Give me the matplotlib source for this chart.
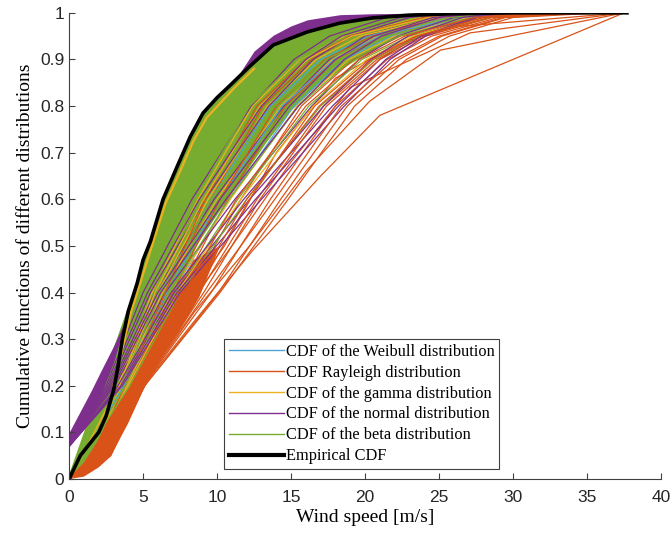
import numpy as np
import matplotlib
matplotlib.use("Agg")
import matplotlib.pyplot as plt
from matplotlib.lines import Line2D

# colours (matlab default order)
c_weib = "#4DA6D3"
c_ray = "#D95319"
c_gam = "#EDB120"
c_norm = "#7E2F8E"
c_beta = "#77AC30"

# empirical CDF
emp_x = [0, 0.3, 0.75, 1.5, 2.0, 2.5, 3.0, 3.3, 3.6, 4.0, 4.6, 5.0, 5.5, 6.35, 7.3,
         8.2, 9.05, 10.0, 10.9, 12.2, 13.8, 16.1, 18.3, 20.5, 23, 26, 30, 37.7]
emp_y = [0, 0.02, 0.05, 0.08, 0.1, 0.135, 0.19, 0.24, 0.3, 0.36, 0.42, 0.47, 0.51, 0.6, 0.67,
         0.735, 0.785, 0.818, 0.845, 0.885, 0.931, 0.959, 0.978, 0.989, 0.995, 0.998, 1, 1]

# dense band of beta curves (outer edges)
beta_top_x = [0, 1, 2, 3, 4.0, 4.6, 5.0, 5.5, 6.35, 7.3, 8.2, 9.05, 10.0, 10.9, 12.2, 13.8,
              16.1, 18.3, 20.5, 23, 26, 30]
beta_top_y = [0.01, 0.1, 0.19, 0.28, 0.37, 0.42, 0.47, 0.51, 0.6, 0.67, 0.735, 0.785, 0.818,
              0.845, 0.885, 0.931, 0.959, 0.978, 0.989, 0.995, 0.998, 1]
beta_low_x = [0, 2, 3.3, 4.5, 5.5, 6.5, 7.5, 8.6, 10.3, 11.8, 13.3, 15, 17, 19.5, 22, 24.5,
              27.5, 30]
beta_low_y = [0, 0.07, 0.16, 0.23, 0.29, 0.35, 0.42, 0.5, 0.58, 0.65, 0.72, 0.79, 0.85, 0.9,
              0.945, 0.975, 0.993, 1.0]

# normal curves band near the top and near x=0
norm_top_x = [11.6, 12.5, 13.8, 15, 16.1, 18.3, 20.5, 23, 26]
norm_top_y = [0.874, 0.918, 0.952, 0.972, 0.985, 0.996, 0.998, 0.999, 1.0]
norm_topb_y = [0.86, 0.88, 0.91, 0.93, 0.945, 0.965, 0.98, 0.99, 0.995]
norm_left_x = [0, 0.75, 1.5, 2.2, 3.0, 3.65]
norm_left_hi = [0.10, 0.145, 0.19, 0.235, 0.285, 0.33]
norm_left_lo = [0.07, 0.105, 0.14, 0.185, 0.25, 0.32]

# rayleigh band (lower side)
ray_up_x = [0, 1, 2, 3.2, 4.3, 5.3, 6.35, 7.3, 8.4, 10.2]
ray_up_y = [0, 0.035, 0.085, 0.16, 0.23, 0.29, 0.35, 0.41, 0.47, 0.5]
ray_lo_x = [0, 1, 2, 2.77, 4, 5, 6.15, 7.5, 8.8, 10.2]
ray_lo_y = [0, 0.005, 0.025, 0.047, 0.12, 0.19, 0.255, 0.32, 0.39, 0.5]

# single curves: x where each curve reaches the levels below
levels = [0, 0.2, 0.4, 0.6, 0.8, 0.9, 0.95, 0.99, 1.0]
norm_levels = [0.07, 0.2, 0.4, 0.6, 0.8, 0.9, 0.95, 0.99, 1.0]
ray_levels = [0, 0.05, 0.2, 0.4, 0.6, 0.8, 0.9, 0.95, 0.99, 1.0]

ray_curves = [
    [0, 1.6, 3.9, 6.6, 9.6, 13.1, 16.4, 19.2, 24.5, 29],
    [0, 2.0, 4.3, 7.4, 10.7, 14.6, 18.0, 21.1, 26.0, 30],
    [0, 2.3, 4.6, 8.1, 11.6, 15.7, 19.2, 22.4, 27.5, 31],
    [0, 1.8, 4.1, 7.0, 10.2, 14.0, 17.3, 20.5, 25.2, 29],
    [0, 2.5, 4.8, 8.6, 12.2, 16.6, 20.3, 23.4, 28.0, 32],
    [0, 1.5, 3.8, 6.5, 9.2, 12.7, 16.0, 19.0, 24.0, 28],
    [0, 2.6, 4.9, 9.1, 12.9, 17.4, 21.0, 24.1, 28.6, 33],
    [0, 2.7, 5.0, 9.6, 13.6, 18.0, 21.5, 24.5, 29, 34],
    [0, 2.8, 5.1, 10.1, 14.3, 18.8, 22.3, 25.2, 29.5, 35],
    [0, 2.4, 4.7, 8.8, 12.7, 17.2, 20.8, 23.8, 28.4, 33],
    [0, 2.8, 5.1, 10.2, 14.8, 19.3, 22.8, 25.7, 30, 36],
    [0, 2.1, 4.4, 7.8, 11.3, 16.0, 19.6, 22.7, 27.4, 31],
    [0, 2.6, 4.9, 9.3, 13.9, 18.4, 22.0, 25.0, 29.3, 35],
    [0, 2.2, 4.5, 8.3, 12.0, 16.9, 20.5, 23.5, 28, 32],
]
gam_curves = [
    [0, 3.3, 5.6, 8.7, 12.4, 15.6, 18.6, 23.8, 28],
    [0, 3.6, 6.3, 10.0, 14.3, 17.8, 20.8, 25.9, 30],
    [0, 3.9, 6.9, 10.9, 15.4, 18.9, 22.0, 27.0, 31],
    [0, 3.5, 6.0, 9.4, 13.4, 16.7, 19.7, 25.0, 29],
    [0, 4.0, 7.3, 11.6, 16.5, 20.1, 23.2, 27.8, 32],
    [0, 3.4, 5.8, 9.1, 12.9, 16.1, 19.1, 24.3, 28],
]
norm_curves = [
    [0, 2.5, 5.0, 8.3, 12.3, 15.2, 17.6, 21.5, 25],
    [0, 2.8, 5.8, 9.8, 14.5, 17.6, 20.0, 24.0, 27],
    [0, 3.1, 6.5, 11.2, 16.4, 19.6, 22.2, 26.0, 29],
    [0, 3.4, 7.1, 12.2, 17.8, 21.0, 23.5, 27.2, 30],
    [0, 2.7, 5.5, 9.2, 13.5, 16.5, 19.0, 23.0, 26],
    [0, 2.6, 5.3, 8.8, 13.0, 16.0, 18.4, 22.4, 26],
    [0, 3.0, 6.2, 10.6, 15.5, 18.6, 21.1, 25.0, 28],
    [0, 3.6, 7.5, 13.0, 18.6, 21.7, 24.1, 27.6, 30],
    [0, 2.9, 6.0, 10.2, 14.9, 18.0, 20.6, 24.6, 28],
    [0, 3.3, 6.9, 11.8, 17.2, 20.4, 22.9, 26.6, 29],
    [0, 3.5, 7.3, 12.6, 18.2, 21.4, 23.8, 27.4, 30],
]
beta_curves = [
    [0, 3.2, 5.5, 8.5, 12.2, 15.5, 18.8, 24.0, 28],
    [0, 3.7, 6.5, 10.1, 14.8, 18.3, 21.5, 26.5, 30],
    [0, 4.0, 7.2, 11.4, 16.2, 19.8, 23.0, 27.8, 31],
    [0, 3.4, 5.9, 9.0, 12.8, 16.0, 19.3, 24.5, 28],
    [0, 3.5, 6.2, 9.6, 13.9, 17.4, 20.7, 25.7, 29],
    [0, 3.8, 6.8, 10.8, 15.5, 19.1, 22.3, 27.2, 31],
    [0, 4.1, 7.5, 12.0, 17.0, 20.6, 23.7, 28.4, 32],
]
weib_curves = [
    [0, 3.6, 6.2, 9.6, 13.6, 17.0, 20.2, 25.5, 30],
    [0, 3.9, 7.0, 10.8, 15.2, 18.6, 21.8, 26.8, 31],
    [0, 3.7, 6.6, 10.2, 14.4, 17.9, 21.0, 26.1, 30],
]

# gamma curve just under the empirical one
gam_top_x = [3.0, 4.2, 4.8, 5.6, 6.5, 7.5, 8.4, 9.3, 11.2, 12.5]
gam_top_y = [0.2, 0.36, 0.42, 0.5, 0.59, 0.66, 0.725, 0.775, 0.84, 0.88]

# rayleigh curves of samples with few high values
ray_out_x = [
    [0, 2.8, 5.0, 8.5, 12.4, 17, 21, 37.5],
    [0, 2.7, 5.0, 8.5, 12.2, 16, 20.3, 25.1, 37.5],
    [0, 2.6, 4.9, 8, 11, 15, 19, 27.1, 37.5],
    [0, 2.5, 4.8, 7.6, 10.5, 14, 18, 22, 26, 37.5],
]
ray_out_y = [
    [0, 0.05, 0.2, 0.34, 0.49, 0.65, 0.78, 1.0],
    [0, 0.05, 0.2, 0.36, 0.5, 0.66, 0.81, 0.92, 1.0],
    [0, 0.05, 0.2, 0.37, 0.5, 0.68, 0.84, 0.957, 1.0],
    [0, 0.05, 0.2, 0.37, 0.5, 0.7, 0.86, 0.93, 0.97, 1.0],
]

fig = plt.figure(figsize=(6.71, 5.34), dpi=100)
ax = fig.add_axes([0.103, 0.103, 0.882, 0.873])

ax.fill_between(norm_top_x, norm_topb_y, norm_top_y, color=c_norm, lw=0)
ax.fill(beta_top_x + beta_low_x[::-1], beta_top_y + beta_low_y[::-1], color=c_beta, lw=0)
ax.fill_between(norm_left_x, norm_left_lo, norm_left_hi, color=c_norm, lw=0)
ax.fill(ray_up_x + ray_lo_x[::-1], ray_up_y + ray_lo_y[::-1], color=c_ray, lw=0)

for xs, ys in zip(ray_out_x, ray_out_y):
    ax.plot(xs, ys, color=c_ray, lw=0.9)
for i in range(14):
    # interleave the families like repeated fits
    if i < len(ray_curves):
        ax.plot(ray_curves[i], ray_levels, color=c_ray, lw=0.9)
    if i < len(weib_curves):
        ax.plot(weib_curves[i], levels, color=c_weib, lw=0.9)
    if i < len(gam_curves):
        ax.plot(gam_curves[i], levels, color=c_gam, lw=0.9)
    if i < len(norm_curves):
        ax.plot(norm_curves[i], norm_levels, color=c_norm, lw=0.9)
    if i < len(beta_curves):
        ax.plot(beta_curves[i], levels, color=c_beta, lw=0.9)

ax.plot(gam_top_x, gam_top_y, color=c_gam, lw=1.6)
ax.plot(emp_x, emp_y, color="black", lw=2.6)

ax.set_xlim(0, 40)
ax.set_ylim(0, 1)
ax.set_xticks(np.arange(0, 41, 5))
ax.set_yticks(np.arange(0, 1.01, 0.1))
ax.set_yticklabels(["0", "0.1", "0.2", "0.3", "0.4", "0.5", "0.6", "0.7", "0.8", "0.9", "1"])
for s in ["top", "right"]:
    ax.spines[s].set_visible(False)
for s in ["left", "bottom"]:
    ax.spines[s].set_color("#404040")
ax.tick_params(direction="in", length=4, color="#404040", labelsize=12.5,
               labelcolor="#262626")
ax.tick_params(axis="x", pad=8)
for lab in ax.get_xticklabels() + ax.get_yticklabels():
    lab.set_family("Liberation Sans")

ax.set_xlabel("Wind speed [m/s]", family="Liberation Serif", fontsize=14, labelpad=3)
ax.set_ylabel("Cumulative functions of different distributions", family="Liberation Serif",
              fontsize=14, labelpad=4)

handles = [
    Line2D([], [], color=c_weib, lw=1),
    Line2D([], [], color=c_ray, lw=1),
    Line2D([], [], color=c_gam, lw=1),
    Line2D([], [], color=c_norm, lw=1),
    Line2D([], [], color=c_beta, lw=1),
    Line2D([], [], color="black", lw=3),
]
names = ["CDF of the Weibull distribution", "CDF Rayleigh distribution",
         "CDF of the gamma distribution", "CDF of the normal distribution",
         "CDF of the beta distribution", "Empirical CDF"]
leg = ax.legend(handles, names, loc="lower left", bbox_to_anchor=(0.262, 0.021),
                prop={"family": "Liberation Serif", "size": 11.8}, fancybox=False,
                framealpha=1, edgecolor="#404040", handlelength=3.35, handletextpad=0.1,
                labelspacing=0.3, borderpad=0.3, borderaxespad=0)
leg.get_frame().set_linewidth(0.8)

fig.savefig("out.png", dpi=100)
